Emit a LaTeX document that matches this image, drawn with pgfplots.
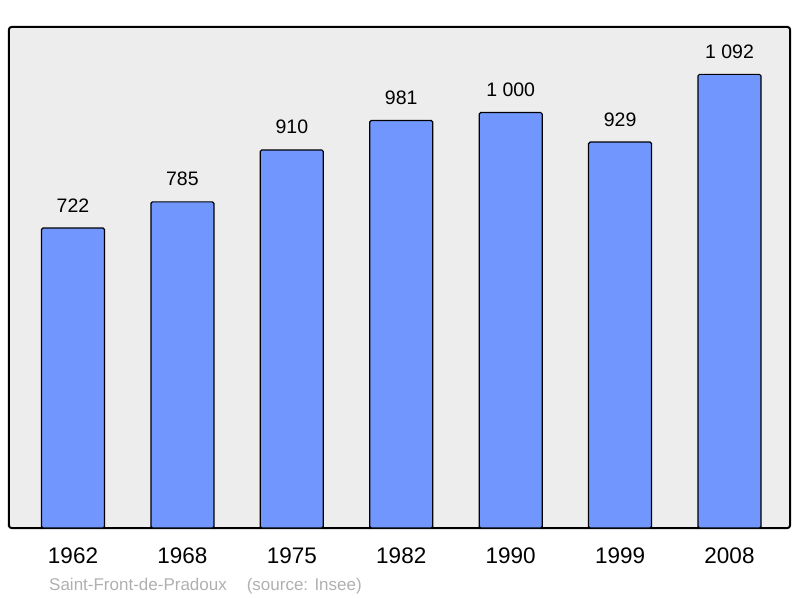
\documentclass[border=0pt]{standalone}
\usepackage{pgfplots}
\pgfplotsset{compat=1.18}
\usepackage{fontspec}
\setmainfont{Liberation Sans}
\definecolor{bgc}{RGB}{237,237,237}
\definecolor{barc}{RGB}{113,151,255}
\definecolor{srcc}{RGB}{176,176,176}
\begin{document}
\begin{tikzpicture}
\useasboundingbox (0,0) rectangle (800pt,598pt);
\begin{axis}[
  at={(9pt,70pt)}, anchor=south west,
  scale only axis, width=781pt, height=501pt,
  xmin=-0.585, xmax=6.553, ymin=0, ymax=1206,
  axis background/.style={fill=bgc},
  axis line style={line width=2pt, rounded corners=2.5pt},
  ytick=\empty,
  xtick={0,1,2,3,4,5,6},
  xticklabels={1962,1968,1975,1982,1990,1999,2008},
  major tick length=0pt,
  xticklabel style={anchor=base, yshift=-35pt, inner sep=0pt, font=\fontsize{22.5}{26}\selectfont},
  nodes near coords,
  point meta=explicit symbolic,
  every node near coord/.append style={anchor=base, yshift=16pt, inner sep=0pt, font=\fontsize{19.5}{23}\selectfont, text=black},
  clip=false,
]
\addplot[ybar, bar width=63pt, fill=barc, draw=black, line width=1.2pt, rounded corners=1.5pt]
coordinates {(0,722) [722] (1,785) [785] (2,910) [910] (3,981) [981] (4,1000) [1 000] (5,929) [929] (6,1092) [1 092]};
\end{axis}
\node[anchor=base west, inner sep=0pt, text=srcc, font=\fontsize{17}{20}\selectfont] at (49pt,8pt) {Saint-Front-de-Pradoux\hspace{20pt}(source: Insee)};
\end{tikzpicture}
\end{document}
